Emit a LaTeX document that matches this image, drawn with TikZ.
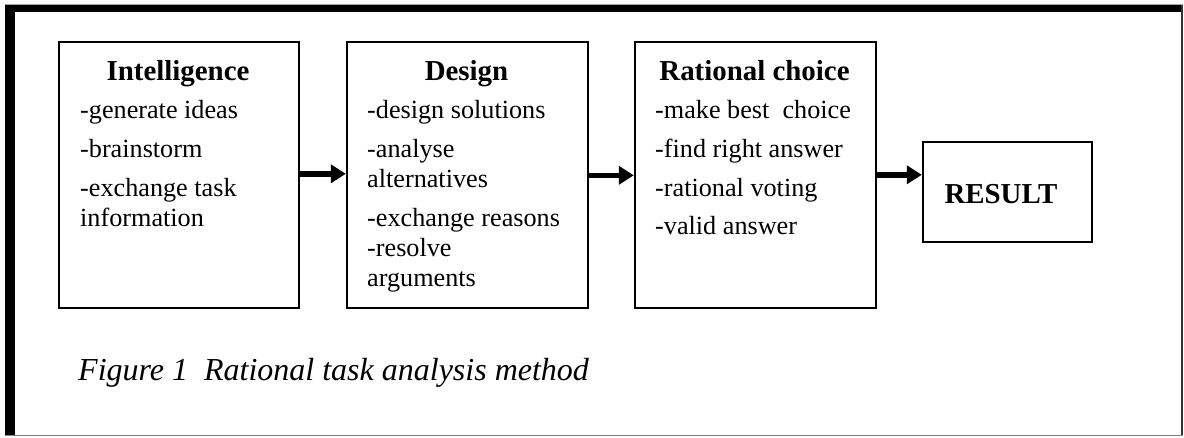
\documentclass[tikz,border=0pt]{standalone}
\usepackage{fontspec}
\setmainfont{Liberation Serif}
\usetikzlibrary{arrows.meta}

\begin{document}
\begin{tikzpicture}[x=1pt,y=-1pt,
  stagebox/.style={draw=black,line width=1.6pt,inner sep=0pt,anchor=north west},
  head/.style={inner sep=0pt,anchor=base,font=\fontsize{28.9}{34}\selectfont\bfseries},
  item/.style={inner sep=0pt,anchor=base west,font=\fontsize{26.2}{30}\selectfont},
  flow/.style={line width=5.5pt,-{Triangle[length=15pt,width=18pt]},shorten >=0.2pt}]

\useasboundingbox (0,0) rectangle (1184,437);

% frame: heavy top and left edges, thin right and bottom edges
\fill[gray!70] (5,3.5) rectangle (1183,5);
\fill[black] (5,5) rectangle (1183,12);
\fill[black] (5,5) rectangle (15,436);
\draw[black!80,line width=1.3pt] (1182,5) -- (1182,436);
\draw[gray,line width=1.3pt] (5,435.7) -- (1183,435.7);

% stages
\node[stagebox,minimum width=240pt,minimum height=266pt] (b1) at (58,41) {};
\node[stagebox,minimum width=241pt,minimum height=266pt] (b2) at (346,41) {};
\node[stagebox,minimum width=241pt,minimum height=266pt] (b3) at (634,41) {};
\node[stagebox,minimum width=169pt,minimum height=100pt] (res) at (922,141) {};

% Intelligence
\node[head] (h1) at (178,80) {Intelligence};
\node[item] (i1) at (80,118) {-generate ideas};
\node[item] (i2) at (80,157) {-brainstorm};
\node[item] (i3) at (80,196) {-exchange task};
\node[item] (i4) at (80,226) {information};

% Design
\node[head] (h2) at (466.5,80) {Design};
\node[item] (d1) at (367,118) {-design solutions};
\node[item] (d2) at (367,157) {-analyse};
\node[item] (d3) at (367,187) {alternatives};
\node[item] (d4) at (367,226) {-exchange reasons};
\node[item] (d5) at (367,256) {-resolve};
\node[item] (d6) at (367,286) {arguments};

% Rational choice
\node[head] (h3) at (754.5,80) {Rational choice};
\node[item] (r1) at (655,118) {-make best\ \ choice};
\node[item] (r2) at (655,157) {-find right answer};
\node[item] (r3) at (655,196) {-rational voting};
\node[item] (r4) at (655,234) {-valid answer};

% Result
\node[head] (h4) at (1001,203) {RESULT};

% flow arrows
\draw[flow] ([yshift=1pt]b1.east) -- ([yshift=1pt]b2.west);
\draw[flow] ([yshift=-0.5pt]b2.east) -- ([yshift=-0.5pt]b3.west);
\draw[flow] (b3.east) -- (b3.east -| res.west);

% caption
\node[inner sep=0pt,anchor=base west,font=\fontsize{32}{36}\selectfont\itshape] (cap) at (78,380) {Figure 1\ \ Rational task analysis method};
\end{tikzpicture}
\end{document}
